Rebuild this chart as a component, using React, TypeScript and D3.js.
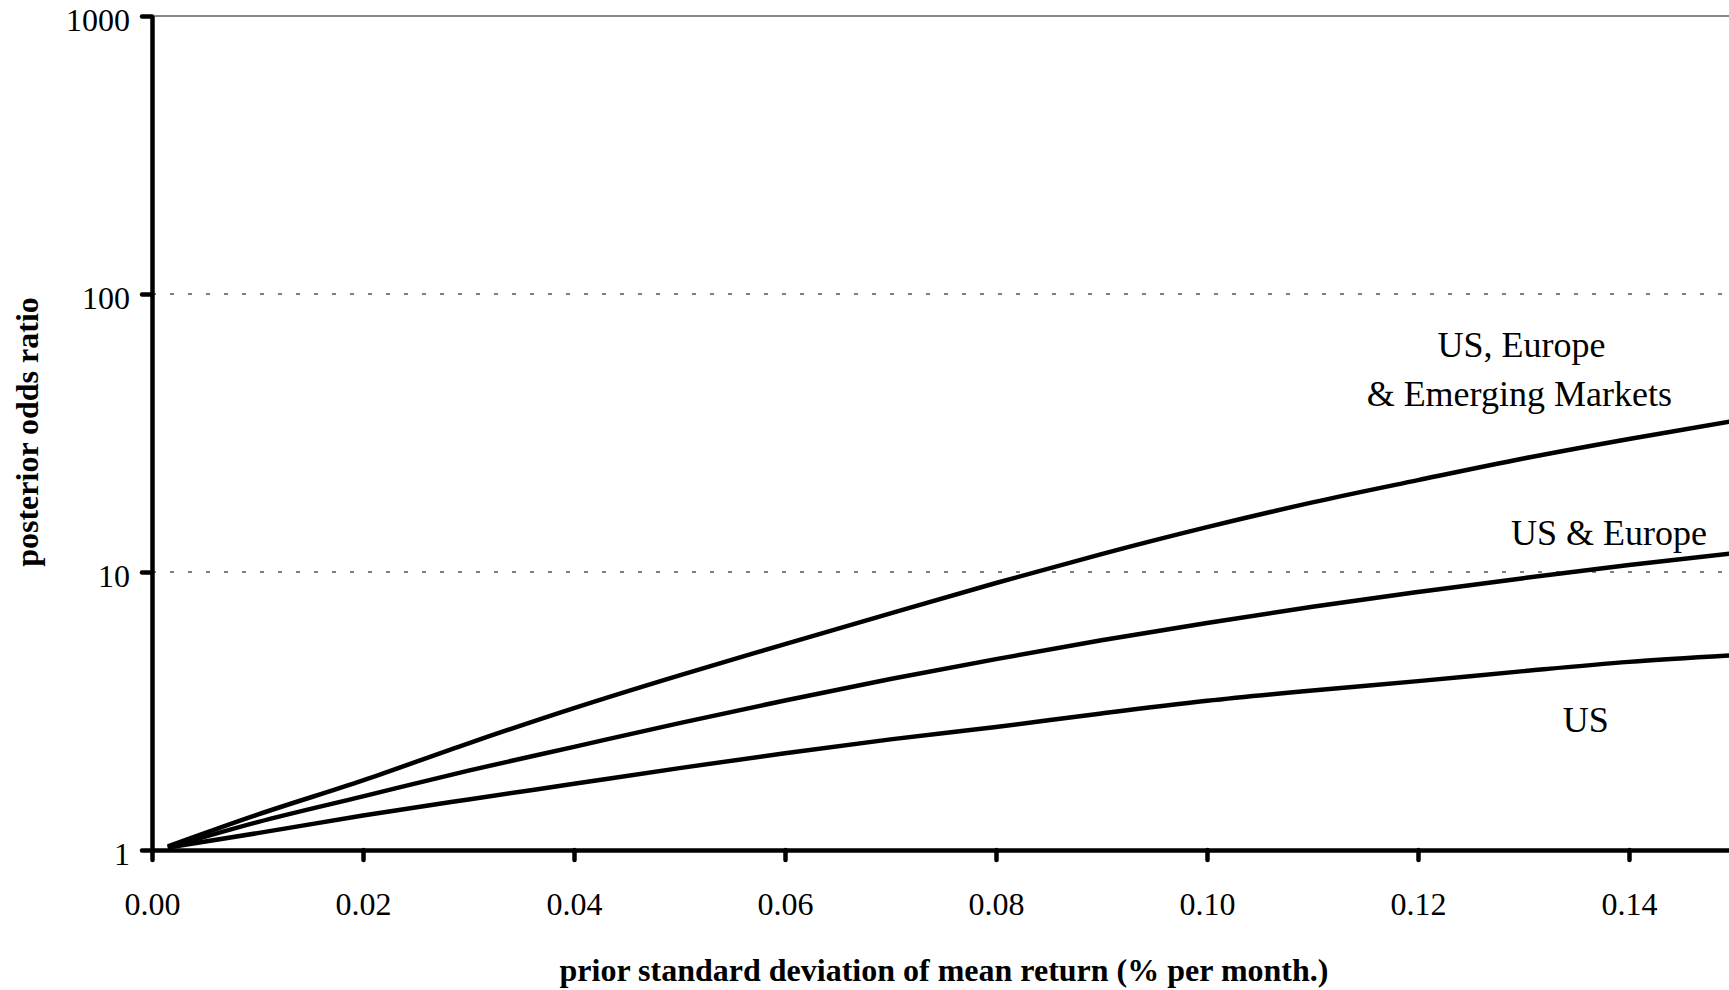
import React, { useRef, useEffect } from 'react';
import * as d3 from 'd3';

// prior std dev of mean return (% per month)
const sigma = [0.0015, 0.01, 0.02, 0.03, 0.04, 0.05, 0.06, 0.07, 0.08, 0.09, 0.1, 0.11, 0.12, 0.13, 0.14, 0.15];

// posterior odds ratios
const usEuropeEm = [1.03, 1.34, 1.78, 2.42, 3.24, 4.25, 5.5, 7.1, 9.13, 11.6, 14.5, 17.8, 21.4, 25.6, 30.1, 35];
const usEurope = [1.02, 1.26, 1.56, 1.93, 2.35, 2.86, 3.45, 4.12, 4.86, 5.68, 6.55, 7.5, 8.47, 9.5, 10.6, 11.7];
const us = [1.02, 1.15, 1.33, 1.52, 1.73, 1.97, 2.23, 2.5, 2.77, 3.1, 3.44, 3.75, 4.05, 4.4, 4.75, 5.02];

const xTicks = [0, 0.02, 0.04, 0.06, 0.08, 0.1, 0.12, 0.14];
const yTicks = [1, 10, 100, 1000];
const gridTicks = [10, 100];

const FONT = "'Liberation Serif', 'Times New Roman', Times, serif";

export default function App() {
  const ref = useRef<SVGSVGElement>(null);

  useEffect(() => {
    const width = 1729;
    const height = 990;
    const left = 152;
    const bottom = 850;
    const top = 16;

    const svg = d3.select(ref.current);
    svg.selectAll('*').remove();

    const x = d3.scaleLinear().domain([0, 0.15]).range([left, left + 7.5 * 211]);
    const y = d3.scaleLog().domain([1, 1000]).range([bottom, top]);

    // dotted gridlines
    svg.append('g')
      .selectAll('line')
      .data(gridTicks)
      .join('line')
      .attr('x1', left)
      .attr('x2', width)
      .attr('y1', (d) => y(d))
      .attr('y2', (d) => y(d))
      .attr('stroke', '#000')
      .attr('stroke-width', 1)
      .attr('stroke-dasharray', '4,14');

    // grey frame line on top
    svg.append('line')
      .attr('x1', left)
      .attr('x2', width)
      .attr('y1', y(1000))
      .attr('y2', y(1000))
      .attr('stroke', '#888')
      .attr('stroke-width', 2);

    const styleAxis = (g) => {
      g.select('.domain').attr('stroke', '#000').attr('stroke-width', 4.5);
      g.selectAll('.tick line').attr('stroke', '#000').attr('stroke-width', 4.5).attr('stroke-linecap', 'round');
      g.selectAll('.tick text')
        .attr('fill', '#000')
        .attr('font-family', FONT)
        .attr('font-size', 32);
    };

    svg.append('g')
      .attr('transform', `translate(0, ${bottom})`)
      .call(
        d3.axisBottom(x)
          .tickValues(xTicks)
          .tickFormat(d3.format('.2f'))
          .tickSize(10)
          .tickSizeOuter(0)
          .tickPadding(32)
      )
      .call(styleAxis);

    svg.append('g')
      .attr('transform', `translate(${left}, 0)`)
      .call(
        d3.axisLeft(y)
          .tickValues(yTicks)
          .tickFormat(d3.format('d'))
          .tickSize(10)
          .tickSizeOuter(0)
          .tickPadding(12)
      )
      .call(styleAxis)
      .call((g) => g.selectAll('.tick text').attr('dy', '0.44em'));

    const line = d3.line()
      .x((d) => x(d[0]))
      .y((d) => y(d[1]))
      .curve(d3.curveMonotoneX);

    [usEuropeEm, usEurope, us].forEach((series) => {
      svg.append('path')
        .attr('fill', 'none')
        .attr('stroke', '#000')
        .attr('stroke-width', 4.5)
        .attr('stroke-linejoin', 'round')
        .attr('d', line(sigma.map((s, i) => [s, series[i]])));
    });

    const labels = [
      { lines: ['US, Europe', '& Emerging Markets'], cx: [0.1298, 0.1296], base: [59.3, 39.5] },
      { lines: ['US & Europe'], cx: [0.1381], base: [12.5] },
      { lines: ['US'], cx: [0.1359], base: [2.66] },
    ];
    labels.forEach((l) => {
      l.lines.forEach((t, i) => {
        svg.append('text')
          .attr('x', x(l.cx[i]))
          .attr('y', y(l.base[i]))
          .attr('text-anchor', 'middle')
          .attr('font-family', FONT)
          .attr('font-size', 36)
          .text(t);
      });
    });

    svg.append('text')
      .attr('x', 944)
      .attr('y', 981)
      .attr('text-anchor', 'middle')
      .attr('font-family', FONT)
      .attr('font-weight', 'bold')
      .attr('font-size', 32)
      .text('prior standard deviation of mean return (% per month.)');

    svg.append('text')
      .attr('transform', 'translate(38, 432) rotate(-90)')
      .attr('text-anchor', 'middle')
      .attr('font-family', FONT)
      .attr('font-weight', 'bold')
      .attr('font-size', 32)
      .text('posterior odds ratio');

    svg.attr('width', width).attr('height', height);
  }, []);

  return (
    <svg
      ref={ref}
      width={1729}
      height={990}
      style={{ position: 'absolute', left: 0, top: 0, background: '#fff' }}
    />
  );
}
